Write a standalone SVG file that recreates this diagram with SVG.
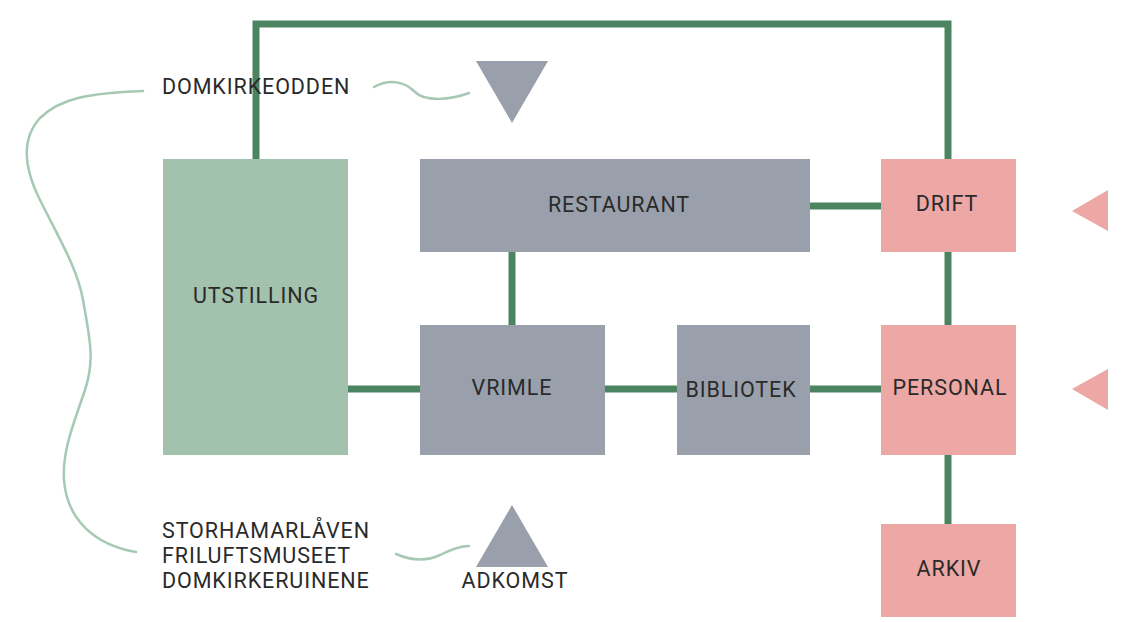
<svg xmlns="http://www.w3.org/2000/svg" width="1126" height="622" viewBox="0 0 1126 622">
<style>
.lbl{font-family:Roboto,"Liberation Sans",sans-serif;font-size:21.5px;fill:#2a2a2a;letter-spacing:0.9px}
.c{text-anchor:middle}
.green{fill:#a2c2ae}
.gray{fill:#99a0ab}
.pink{fill:#eda8a5}
.conn{fill:none;stroke:#4a8560;stroke-width:7}
.wave{fill:none;stroke:#a6c9b4;stroke-width:2.5;stroke-linecap:round}
</style>
<rect width="1126" height="622" fill="#ffffff"/>
<g id="connectors">
<path class="conn" d="M256,159 V24 H948 V159"/>
<path class="conn" d="M810,206 H881"/>
<path class="conn" d="M512,252 V325"/>
<path class="conn" d="M348,389 H420"/>
<path class="conn" d="M605,389 H677"/>
<path class="conn" d="M810,389 H881"/>
<path class="conn" d="M948,252 V325"/>
<path class="conn" d="M948,455 V524"/>
</g>
<g id="annotations">
<path class="wave" d="M143,91 C90,93 60,98 40,118 C20,140 25,170 40,200 C60,240 78,270 83,300 C90,340 95,360 85,390 C75,420 62,450 64,480 C67,520 95,545 136,552"/>
<path class="wave" d="M374,87 C390,78 405,82 415,92 C425,102 450,100 469,93"/>
<path class="wave" d="M396,554 C410,560 425,562 440,555 C452,549 460,546 469,546"/>
</g>
<g id="utstilling"><rect class="green" x="163" y="159" width="185" height="296"/><text class="lbl c" x="256" y="303">UTSTILLING</text></g>
<g id="restaurant"><rect class="gray" x="420" y="159" width="390" height="93"/><text class="lbl c" x="619" y="212">RESTAURANT</text></g>
<g id="vrimle"><rect class="gray" x="420" y="325" width="185" height="130"/><text class="lbl c" x="512" y="395">VRIMLE</text></g>
<g id="bibliotek"><rect class="gray" x="677" y="325" width="133" height="130"/><text class="lbl c" x="741" y="397">BIBLIOTEK</text></g>
<g id="drift"><rect class="pink" x="881" y="159" width="135" height="93"/><text class="lbl c" x="947" y="211">DRIFT</text></g>
<g id="personal"><rect class="pink" x="881" y="325" width="135" height="130"/><text class="lbl c" x="950" y="395">PERSONAL</text></g>
<g id="arkiv"><rect class="pink" x="881" y="524" width="135" height="93"/><text class="lbl c" x="949" y="576">ARKIV</text></g>
<g id="domkirkeodden"><text class="lbl" x="162" y="94">DOMKIRKEODDEN</text><polygon class="gray" points="476,61 548,61 512,123"/></g>
<g id="adkomst"><polygon class="gray" points="476,567 548,567 512,505"/><text class="lbl c" x="515" y="588">ADKOMST</text></g>
<g id="sites"><text class="lbl" x="162" y="538">STORHAMARLÅVEN</text><text class="lbl" x="162" y="563">FRILUFTSMUSEET</text><text class="lbl" x="162" y="588">DOMKIRKERUINENE</text></g>
<g id="entry-drift"><polygon class="pink" points="1072,211 1108,190 1108,231"/></g>
<g id="entry-personal"><polygon class="pink" points="1072,389 1108,369 1108,410"/></g>
</svg>
